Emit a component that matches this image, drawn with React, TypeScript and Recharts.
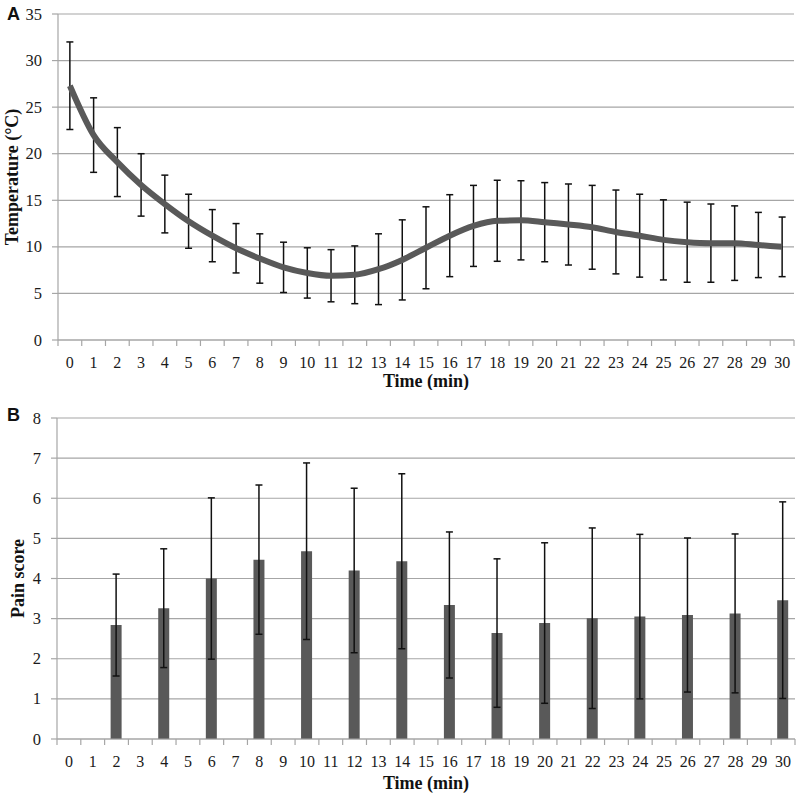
import React from 'react';
import {
  ComposedChart,
  Line,
  Bar,
  XAxis,
  YAxis,
  CartesianGrid,
  ErrorBar,
} from 'recharts';

const minutes: number[] = Array.from({ length: 31 }, (_, i) => i);

const tempMean: number[] = [
  27.3, 22.0, 19.1, 16.65, 14.6, 12.75, 11.2, 9.85, 8.75, 7.8, 7.2, 6.9, 7.0, 7.6, 8.6,
  9.9, 11.2, 12.25, 12.8, 12.85, 12.65, 12.4, 12.1, 11.6, 11.2, 10.75, 10.5, 10.4, 10.4, 10.2, 10.0,
];
const tempErr: number[] = [
  4.7, 4.0, 3.7, 3.35, 3.1, 2.9, 2.8, 2.65, 2.65, 2.7, 2.7, 2.8, 3.1, 3.8, 4.3,
  4.4, 4.4, 4.35, 4.35, 4.25, 4.25, 4.35, 4.5, 4.5, 4.45, 4.3, 4.3, 4.2, 4.0, 3.5, 3.2,
];

const painMinutes: number[] = [2, 4, 6, 8, 10, 12, 14, 16, 18, 20, 22, 24, 26, 28, 30];
const painMean: number[] = [
  2.84, 3.26, 4.0, 4.47, 4.68, 4.2, 4.43, 3.34, 2.64, 2.89, 3.01, 3.05, 3.09, 3.13, 3.46,
];
const painErr: number[] = [
  1.27, 1.48, 2.01, 1.86, 2.2, 2.05, 2.18, 1.82, 1.85, 2.0, 2.25, 2.05, 1.92, 1.98, 2.45,
];

const tempTicks: number[] = [0, 5, 10, 15, 20, 25, 30, 35];
const painTicks: number[] = [0, 1, 2, 3, 4, 5, 6, 7, 8];

const tempData = minutes.map((m, i) => ({ t: String(m), mean: tempMean[i], err: tempErr[i] }));
const painData = minutes.map((m) => {
  const k = painMinutes.indexOf(m);
  return k >= 0
    ? { t: String(m), mean: painMean[k], err: painErr[k] }
    : { t: String(m), mean: null, err: null };
});

const SERIF = "'Liberation Serif', 'Times New Roman', serif";
const SANS = "'Liberation Sans', Arial, sans-serif";
const GRID = '#a6a6a6';
const SERIES = '#595959';

const makeXTick = (half: number, lastIndex: number) => (props: any) => {
  const { x, y, payload, index } = props;
  return (
    <g>
      <line x1={x - half} x2={x - half} y1={y} y2={y + 6} stroke={GRID} strokeWidth={1.2} />
      {index === lastIndex && (
        <line x1={x + half} x2={x + half} y1={y} y2={y + 6} stroke={GRID} strokeWidth={1.2} />
      )}
      <text
        x={x}
        y={y + 27.5}
        textAnchor="middle"
        style={{ fontFamily: SERIF, fontSize: 16, fill: '#1a1a1a' }}
      >
        {payload.value}
      </text>
    </g>
  );
};

const makeYTick = () => (props: any) => {
  const { x, y, payload } = props;
  return (
    <text
      x={x}
      y={y + 5.5}
      textAnchor="end"
      style={{ fontFamily: SERIF, fontSize: 16.5, fill: '#1a1a1a' }}
    >
      {payload.value}
    </text>
  );
};

const titleStyle = { fontFamily: SERIF, fontWeight: 'bold' as const, fontSize: 18, fill: '#111' };

export default function App() {
  return (
    <div style={{ position: 'absolute', left: 0, top: 0, width: 798, height: 796, background: '#fff' }}>
      <div
        style={{
          position: 'absolute', left: 7, top: 5, fontFamily: SANS, fontWeight: 'bold',
          fontSize: 18, lineHeight: '18px', color: '#111',
        }}
      >
        A
      </div>
      <div
        style={{
          position: 'absolute', left: 7, top: 406, fontFamily: SANS, fontWeight: 'bold',
          fontSize: 18, lineHeight: '18px', color: '#111',
        }}
      >
        B
      </div>

      <div style={{ position: 'absolute', left: 0, top: 0 }}>
        <ComposedChart width={798} height={390} data={tempData} margin={{ top: 14, right: 4, bottom: 0, left: 0 }}>
          <CartesianGrid vertical={false} stroke={GRID} strokeWidth={1.2} />
          <XAxis
            dataKey="t"
            scale="band"
            interval={0}
            height={50}
            tickLine={false}
            tickSize={0}
            tickMargin={0}
            axisLine={{ stroke: GRID, strokeWidth: 1.2 }}
            tick={makeXTick(736 / 31 / 2, 30)}
            label={{ value: 'Time (min)', position: 'insideBottom', offset: 3, style: titleStyle }}
          />
          <YAxis
            width={58}
            domain={[0, 35]}
            ticks={tempTicks}
            interval={0}
            tickSize={6}
            tickMargin={10}
            tickLine={{ stroke: GRID, strokeWidth: 1.2 }}
            axisLine={{ stroke: GRID, strokeWidth: 1.2 }}
            tick={makeYTick()}
            label={{
              value: 'Temperature (°C)', angle: -90, position: 'insideLeft', offset: 12,
              style: { ...titleStyle, textAnchor: 'middle' },
            }}
          />
          <Line
            type="monotone"
            dataKey="mean"
            stroke={SERIES}
            strokeWidth={6}
            dot={false}
            activeDot={false}
            isAnimationActive={false}
          >
            <ErrorBar dataKey="err" width={3.5} stroke="#111" strokeWidth={1.5} />
          </Line>
        </ComposedChart>
      </div>

      <div style={{ position: 'absolute', left: 0, top: 390 }}>
        <ComposedChart width={798} height={403} data={painData} margin={{ top: 28, right: 3, bottom: 0, left: 0 }}>
          <CartesianGrid vertical={false} stroke={GRID} strokeWidth={1.2} />
          <XAxis
            dataKey="t"
            interval={0}
            height={54}
            tickLine={false}
            tickSize={0}
            tickMargin={0}
            axisLine={{ stroke: GRID, strokeWidth: 1.2 }}
            tick={makeXTick(738 / 31 / 2, 30)}
            label={{ value: 'Time (min)', position: 'insideBottom', offset: 4, style: titleStyle }}
          />
          <YAxis
            width={57}
            domain={[0, 8]}
            ticks={painTicks}
            interval={0}
            tickSize={6}
            tickMargin={10}
            tickLine={{ stroke: GRID, strokeWidth: 1.2 }}
            axisLine={{ stroke: GRID, strokeWidth: 1.2 }}
            tick={makeYTick()}
            label={{
              value: 'Pain score', angle: -90, position: 'insideLeft', offset: 18,
              style: { ...titleStyle, textAnchor: 'middle' },
            }}
          />
          <Bar dataKey="mean" fill={SERIES} barSize={11} isAnimationActive={false}>
            <ErrorBar dataKey="err" width={3.5} stroke="#111" strokeWidth={1.5} />
          </Bar>
        </ComposedChart>
      </div>
    </div>
  );
}
